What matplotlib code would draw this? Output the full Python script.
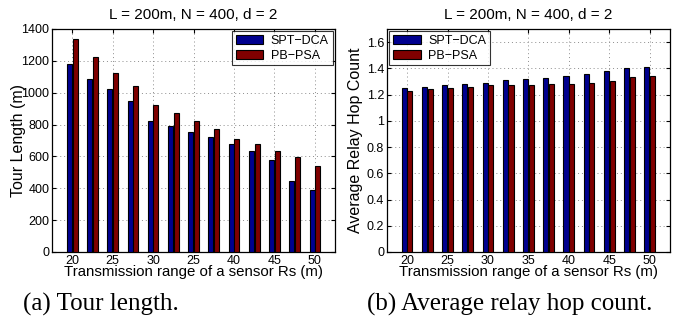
import matplotlib
matplotlib.use("Agg")
import matplotlib.pyplot as plt
import numpy as np

plt.rcParams["font.family"] = ["Liberation Sans", "DejaVu Sans"]

# 13 groups of bars, every other one labelled
groups = np.arange(1, 14)
tick_pos = [1, 3, 5, 7, 9, 11, 13]
tick_labels_a = ["20", "25", "30", "25", "40", "45", "50"]
tick_labels_b = ["20", "25", "30", "35", "40", "45", "50"]

tour_spt = [1180, 1088, 1022, 945, 825, 790, 755, 720, 680, 632, 580, 443, 390]
tour_pb = [1335, 1222, 1122, 1045, 925, 875, 820, 773, 712, 675, 635, 595, 540]

hop_spt = [1.25, 1.255, 1.27, 1.28, 1.29, 1.31, 1.32, 1.33, 1.34, 1.36, 1.38, 1.40, 1.41]
hop_pb = [1.23, 1.24, 1.25, 1.26, 1.27, 1.275, 1.275, 1.28, 1.28, 1.285, 1.30, 1.335, 1.345]

series_names = ["SPT\u2212DCA", "PB\u2212PSA"]
c_blue = (0.0, 0.0, 0.5625)
c_red = (0.5, 0.0, 0.0)

fig = plt.figure(figsize=(6.74, 3.2), dpi=100)
ax1 = fig.add_axes([0.0772, 0.2125, 0.42, 0.697])
ax2 = fig.add_axes([0.574, 0.2125, 0.42, 0.697])


def draw(ax, a, b, ylim, yticks, ylabel, ylab_x, xlabels, legend_loc):
    w = 0.25
    ax.bar(groups - 0.14, a, w, color=c_blue, edgecolor="black", lw=0.8,
           label=series_names[0], zorder=3)
    ax.bar(groups + 0.14, b, w, color=c_red, edgecolor="black", lw=0.8,
           label=series_names[1], zorder=3)
    ax.set_xlim(0, 14)
    ax.set_ylim(*ylim)
    ax.set_yticks(yticks)
    ax.set_xticks(tick_pos)
    ax.set_xticklabels(xlabels)
    ax.tick_params(direction="in", labelsize=9, length=3, pad=2,
                   top=True, right=True)
    ax.grid(True, ls=(0, (1, 3)), color="0.55", lw=0.7, zorder=0)
    ax.set_title("L = 200m, N = 400, d = 2", fontsize=11, pad=7)
    ax.set_xlabel("Transmission range of a sensor Rs (m)", fontsize=10.8,
                  labelpad=-1)
    ax.set_ylabel(ylabel, fontsize=11.5)
    ax.yaxis.set_label_coords(ylab_x, 0.5)
    leg = ax.legend(loc=legend_loc, fontsize=9, fancybox=False,
                    borderaxespad=0.2, handlelength=2.2, handletextpad=0.6,
                    borderpad=0.3, labelspacing=0.2)
    leg.get_frame().set_edgecolor("black")
    leg.get_frame().set_linewidth(0.8)
    for s in ax.spines.values():
        s.set_linewidth(0.9)


draw(ax1, tour_spt, tour_pb, (0, 1400), np.arange(0, 1401, 200),
     "Tour Length (m)", -0.092, tick_labels_a, "upper right")
yt = np.arange(0, 1.61, 0.2)
draw(ax2, hop_spt, hop_pb, (0, 1.7), yt,
     "Average Relay Hop Count", -0.085, tick_labels_b, "upper left")
ax2.set_yticklabels(["0", "0.2", "0.4", "0.6", "0.8", "1", "1.2", "1.4", "1.6"])

serif = ["Liberation Serif", "DejaVu Serif"]
fig.text(23 / 674, 0.028, "(a) Tour length.", fontsize=18, family=serif,
         ha="left", va="baseline")
fig.text(367 / 674, 0.028, "(b) Average relay hop count.", fontsize=18,
         family=serif, ha="left", va="baseline")

fig.savefig("out.png", dpi=100)
